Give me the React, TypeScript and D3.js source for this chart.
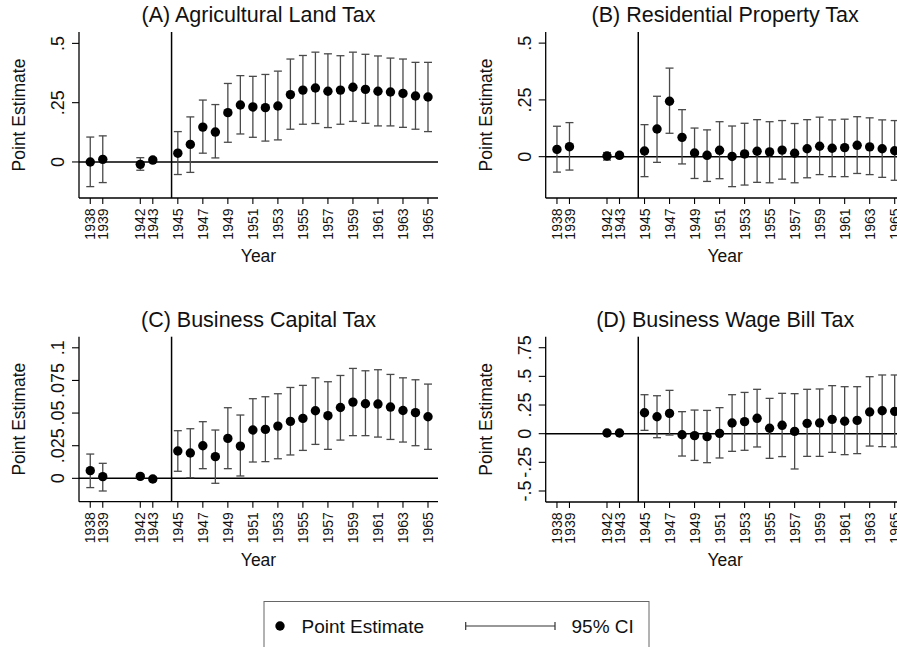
import * as d3 from "d3";

// years with estimates
const years = [1938, 1939, 1942, 1943, 1945, 1946, 1947, 1948, 1949, 1950, 1951, 1952, 1953, 1954, 1955, 1956, 1957, 1958, 1959, 1960, 1961, 1962, 1963, 1964, 1965];
const xTicks = [1938, 1939, 1942, 1943, 1945, 1947, 1949, 1951, 1953, 1955, 1957, 1959, 1961, 1963, 1965];

const aEst = [0.0, 0.011, -0.01, 0.008, 0.037, 0.074, 0.147, 0.126, 0.208, 0.24, 0.232, 0.229, 0.236, 0.284, 0.303, 0.312, 0.298, 0.303, 0.315, 0.306, 0.298, 0.295, 0.289, 0.278, 0.274];
const aLo = [-0.104, -0.087, -0.035, -0.001, -0.053, -0.044, 0.037, 0.017, 0.083, 0.118, 0.104, 0.088, 0.093, 0.138, 0.159, 0.162, 0.145, 0.159, 0.171, 0.163, 0.152, 0.152, 0.146, 0.138, 0.128];
const aHi = [0.105, 0.11, 0.018, 0.017, 0.128, 0.19, 0.261, 0.242, 0.331, 0.364, 0.361, 0.369, 0.383, 0.434, 0.449, 0.463, 0.456, 0.448, 0.463, 0.454, 0.447, 0.438, 0.434, 0.42, 0.42];

const bEst = [0.032, 0.044, 0.003, 0.006, 0.025, 0.122, 0.244, 0.085, 0.016, 0.006, 0.028, 0.001, 0.012, 0.024, 0.021, 0.029, 0.015, 0.035, 0.046, 0.037, 0.04, 0.05, 0.043, 0.035, 0.026];
const bLo = [-0.068, -0.059, -0.015, -0.004, -0.088, -0.025, 0.103, -0.032, -0.096, -0.109, -0.097, -0.132, -0.125, -0.113, -0.115, -0.099, -0.115, -0.093, -0.079, -0.088, -0.088, -0.074, -0.079, -0.091, -0.104];
const bHi = [0.134, 0.15, 0.018, 0.016, 0.141, 0.266, 0.39, 0.207, 0.126, 0.118, 0.154, 0.135, 0.147, 0.163, 0.154, 0.159, 0.146, 0.163, 0.174, 0.162, 0.165, 0.176, 0.171, 0.162, 0.159];

const cEst = [0.0059, 0.0013, 0.0015, -0.0005, 0.0209, 0.0194, 0.025, 0.0166, 0.0306, 0.0247, 0.037, 0.0375, 0.04, 0.0436, 0.0459, 0.0518, 0.048, 0.0543, 0.0584, 0.0571, 0.0569, 0.0546, 0.052, 0.0503, 0.0472];
const cLo = [-0.0071, -0.0097, 0.0, -0.002, 0.0054, 0.0005, 0.0074, -0.0038, 0.0074, 0.0018, 0.0125, 0.0128, 0.015, 0.0179, 0.0214, 0.026, 0.0222, 0.0293, 0.0327, 0.0327, 0.0316, 0.0298, 0.0278, 0.025, 0.0222];
const cHi = [0.0186, 0.0115, 0.003, 0.001, 0.0365, 0.038, 0.0434, 0.037, 0.0541, 0.0485, 0.061, 0.0625, 0.0648, 0.0696, 0.0712, 0.077, 0.074, 0.0788, 0.0842, 0.0824, 0.0832, 0.0796, 0.077, 0.0755, 0.0722];

const dEst = [null, null, 0.006, 0.006, 0.183, 0.148, 0.177, -0.009, -0.017, -0.026, 0.003, 0.093, 0.105, 0.134, 0.047, 0.073, 0.02, 0.09, 0.093, 0.125, 0.108, 0.116, 0.189, 0.2, 0.195];
const dLo = [null, null, -0.005, -0.005, 0.029, -0.035, -0.012, -0.195, -0.233, -0.253, -0.212, -0.154, -0.145, -0.116, -0.215, -0.2, -0.308, -0.198, -0.198, -0.163, -0.183, -0.174, -0.108, -0.113, -0.116];
const dHi = [null, null, 0.017, 0.017, 0.34, 0.331, 0.378, 0.192, 0.206, 0.203, 0.227, 0.34, 0.36, 0.387, 0.308, 0.352, 0.349, 0.387, 0.39, 0.419, 0.41, 0.41, 0.497, 0.512, 0.512];

const aTicks = [0, 0.25, 0.5];
const bTicks = [0, 0.25, 0.5];
const cTicks = [0, 0.025, 0.05, 0.075, 0.1];
const dTicks = [-0.5, -0.25, 0, 0.25, 0.5, 0.75];

const FONT = "'Liberation Sans', Arial, Helvetica, sans-serif";
const ERR = "#4a4a4a";

// stata style: .25 / -.5
const fmt = (v: number) => {
  if (v === 0) return "0";
  const s = String(v);
  return s.replace(/^(-?)0\./, "$1.");
};

function Panel({ title, left, top, bottom, yDomain, yTicks, est, lo, hi }) {
  const width = 359;
  const x = d3.scaleLinear().domain([1937.1, 1965.8]).range([left, left + width]);
  const y = d3.scaleLinear().domain(yDomain).range([bottom, top]);
  const right = left + width;
  const cx = left + width / 2;
  const pts = years
    .map((yr, i) => ({ yr, e: est[i], l: lo[i], h: hi[i] }))
    .filter((d) => d.e != null);

  return (
    <g>
      <text x={cx} y={top - 10} textAnchor="middle" fontSize={21.5} fontFamily={FONT} fill="#111">
        {title}
      </text>
      {/* axes */}
      <line x1={left} x2={left} y1={top} y2={bottom} stroke="#000" strokeWidth={1.3} />
      <line x1={left} x2={right} y1={bottom} y2={bottom} stroke="#000" strokeWidth={1.3} />
      {yTicks.map((t) => (
        <g key={t}>
          <line x1={left - 7} x2={left} y1={y(t)} y2={y(t)} stroke="#000" strokeWidth={1.1} />
          <text
            transform={`translate(${left - 15},${y(t)}) rotate(-90)`}
            textAnchor="middle"
            fontSize={18}
            fontFamily={FONT}
            fill="#111"
          >
            {fmt(t)}
          </text>
        </g>
      ))}
      {xTicks.map((t) => (
        <g key={t}>
          <line x1={x(t)} x2={x(t)} y1={bottom} y2={bottom + 6} stroke="#000" strokeWidth={1.1} />
          <text
            transform={`translate(${x(t)},${bottom + 10.5}) rotate(-90)`}
            textAnchor="end"
            dy="0.36em"
            fontSize={14}
            fontFamily={FONT}
            fill="#111"
          >
            {t}
          </text>
        </g>
      ))}
      <text
        transform={`translate(${left - 54},${(top + bottom) / 2}) rotate(-90)`}
        textAnchor="middle"
        fontSize={17.5}
        fontFamily={FONT}
        fill="#111"
      >
        Point Estimate
      </text>
      <text x={cx} y={bottom + 64} textAnchor="middle" fontSize={17.5} fontFamily={FONT} fill="#111">
        Year
      </text>
      {/* reference lines */}
      <line x1={left} x2={right} y1={y(0)} y2={y(0)} stroke="#000" strokeWidth={1.5} />
      <line x1={x(1944.5)} x2={x(1944.5)} y1={top} y2={bottom} stroke="#000" strokeWidth={1.5} />
      {/* CIs */}
      {pts.map((d) => (
        <g key={d.yr} stroke={ERR} strokeWidth={1.3}>
          <line x1={x(d.yr)} x2={x(d.yr)} y1={y(d.l)} y2={y(d.h)} />
          <line x1={x(d.yr) - 4} x2={x(d.yr) + 4} y1={y(d.l)} y2={y(d.l)} />
          <line x1={x(d.yr) - 4} x2={x(d.yr) + 4} y1={y(d.h)} y2={y(d.h)} />
        </g>
      ))}
      {pts.map((d) => (
        <circle key={d.yr} cx={x(d.yr)} cy={y(d.e)} r={4.7} fill="#000" />
      ))}
    </g>
  );
}

export default function App() {
  return (
    <div style={{ position: "absolute", left: 0, top: 0 }}>
      <svg width={897} height={647} style={{ display: "block", background: "#fff" }}>
        <Panel title="(A) Agricultural Land Tax" left={79} top={32} bottom={198} yDomain={[-0.152, 0.548]} yTicks={aTicks} est={aEst} lo={aLo} hi={aHi} />
        <Panel title="(B) Residential Property Tax" left={545.7} top={32} bottom={198} yDomain={[-0.182, 0.549]} yTicks={bTicks} est={bEst} lo={bLo} hi={bHi} />
        <Panel title="(C) Business Capital Tax" left={79} top={336.7} bottom={501.7} yDomain={[-0.0179, 0.1085]} yTicks={cTicks} est={cEst} lo={cLo} hi={cHi} />
        <Panel title="(D) Business Wage Bill Tax" left={545.7} top={336.7} bottom={502} yDomain={[-0.596, 0.846]} yTicks={dTicks} est={dEst} lo={dLo} hi={dHi} />
        {/* legend */}
        <rect x={264} y={601.5} width={385} height={60} fill="#fff" stroke="#666" strokeWidth={1} />
        <circle cx={280} cy={626} r={4.7} fill="#000" />
        <text x={301.5} y={632.5} fontSize={19} fontFamily={FONT} fill="#111">
          Point Estimate
        </text>
        <g stroke="#333" strokeWidth={1.2}>
          <line x1={465.7} x2={555} y1={626} y2={626} />
          <line x1={465.7} x2={465.7} y1={622} y2={630} />
          <line x1={555} x2={555} y1={622} y2={630} />
        </g>
        <text x={571.5} y={632.5} fontSize={19} fontFamily={FONT} fill="#111">
          95% CI
        </text>
      </svg>
    </div>
  );
}
